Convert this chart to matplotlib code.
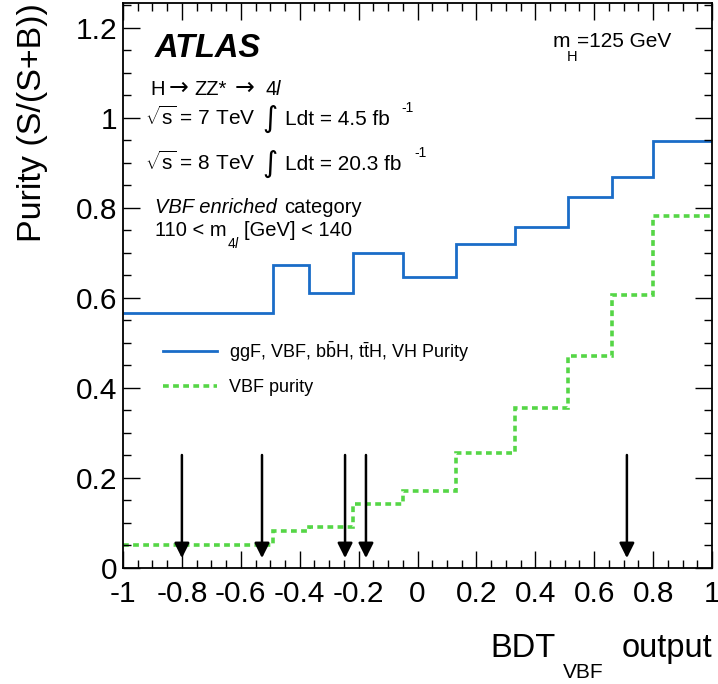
import matplotlib
matplotlib.use("Agg")
import matplotlib.pyplot as plt
from matplotlib.ticker import MultipleLocator

plt.rcParams['font.family'] = ['Liberation Sans', 'DejaVu Sans']
plt.rcParams['mathtext.fontset'] = 'custom'
plt.rcParams['mathtext.rm'] = 'Liberation Sans'
plt.rcParams['mathtext.it'] = 'Liberation Sans:italic'
plt.rcParams['mathtext.bf'] = 'Liberation Sans:bold'

# ---- data ----
bin_edges = [-1.0, -0.49, -0.37, -0.22, -0.05, 0.13, 0.33, 0.51, 0.66, 0.80, 1.0]
all_purity = [0.567, 0.673, 0.611, 0.700, 0.647, 0.719, 0.758, 0.824, 0.868, 0.948]
vbf_purity = [0.051, 0.083, 0.090, 0.142, 0.171, 0.255, 0.355, 0.470, 0.607, 0.781]
arrow_x = [-0.80, -0.528, -0.246, -0.175, 0.711]
arrow_top = 0.251
arrow_tip = 0.022

xticks = [-1, -0.8, -0.6, -0.4, -0.2, 0, 0.2, 0.4, 0.6, 0.8, 1]
xticklabels = ['-1', '-0.8', '-0.6', '-0.4', '-0.2', '0', '0.2', '0.4', '0.6', '0.8', '1']
yticks = [0, 0.2, 0.4, 0.6, 0.8, 1.0, 1.2]
yticklabels = ['0', '0.2', '0.4', '0.6', '0.8', '1', '1.2']

label_all = r'ggF, VBF, b$\mathregular{\bar{b}}$H, t$\mathregular{\bar{t}}$H, VH Purity'
label_vbf = 'VBF purity'

blue = '#1a6cc8'
green = '#55d646'

W, H = 718, 684
fig = plt.figure(figsize=(W / 100, H / 100), dpi=100)
ax = fig.add_axes([123 / W, 116 / H, 589 / W, 565 / H])


def ptext(x, y, s, **kw):
    """Place text at pixel position (from top-left), baseline-anchored."""
    kw.setdefault('va', 'baseline')
    kw.setdefault('ha', 'left')
    return fig.text(x / W, 1 - y / H, s, **kw)


ax.stairs(all_purity, bin_edges, color=blue, lw=2.0, label=label_all, baseline=None)
ax.stairs(vbf_purity, bin_edges, color=green, lw=2.6, ls=(0, (1.6, 1.2)),
          label=label_vbf, baseline=None)

for xa in arrow_x:
    ax.annotate('', xy=(xa, arrow_tip), xytext=(xa, arrow_top),
                arrowprops=dict(arrowstyle='-|>,head_length=0.9,head_width=0.45',
                                color='black', lw=1.8, shrinkA=0, shrinkB=0))

ax.set_xlim(-1, 1)
ax.set_ylim(0, 1.255)
ax.set_xticks(xticks)
ax.set_xticklabels(xticklabels)
ax.set_yticks(yticks)
ax.set_yticklabels(yticklabels)
ax.xaxis.set_minor_locator(MultipleLocator(0.05))
ax.yaxis.set_minor_locator(MultipleLocator(0.05))
ax.tick_params(which='both', direction='in', top=True, right=True, labelsize=21.5, width=1.0)
ax.tick_params(which='major', length=12)
ax.tick_params(which='minor', length=6)
ax.tick_params(axis='x', pad=9)
ax.tick_params(axis='y', pad=4)
for s in ax.spines.values():
    s.set_linewidth(1.3)

ax.set_ylabel('Purity (S/(S+B))', fontsize=24.5, loc='top')
ax.yaxis.set_label_coords(-0.128, 1.0)

# x-axis title (ROOT style, deep subscript)
ptext(712, 657, 'output', fontsize=23.5, ha='right')
ptext(604, 678, 'VBF', fontsize=15, ha='right')
ptext(556, 657, 'BDT', fontsize=23.5, ha='right')

# annotations
ptext(155, 57, 'ATLAS', fontsize=23.5, fontweight='bold', fontstyle='italic')
ptext(553, 47, 'm', fontsize=15)
ptext(567, 61, 'H', fontsize=10.5)
ptext(577, 47, '=125 GeV', fontsize=15)

ptext(150, 95, 'H', fontsize=14.5)
ptext(169, 95, '\u2192', fontsize=17, family=['DejaVu Sans'])
ptext(194, 95, 'ZZ*', fontsize=14.5)
ptext(235, 95, '\u2192', fontsize=17, family=['DejaVu Sans'])
ptext(265, 95, '4', fontsize=14.5)
ptext(276, 95, 'l', fontsize=14.5, fontstyle='italic')

ptext(145, 125, r'$\sqrt{\mathregular{s}}$ = 7 TeV', fontsize=15)
ptext(262, 127, '\u222b', fontsize=21, family=['DejaVu Sans'])
ptext(285, 125, 'Ldt = 4.5 fb', fontsize=15)
ptext(401, 112, '-1', fontsize=10)

ptext(145, 170, r'$\sqrt{\mathregular{s}}$ = 8 TeV', fontsize=15)
ptext(262, 172, '\u222b', fontsize=21, family=['DejaVu Sans'])
ptext(285, 170, 'Ldt = 20.3 fb', fontsize=15)
ptext(414, 157, '-1', fontsize=10)

ptext(155, 213, 'VBF enriched', fontsize=14.5, fontstyle='italic')
ptext(284, 213, 'category', fontsize=14.5)
ptext(155, 236, '110 < m', fontsize=14.5)
ptext(228, 248, '4', fontsize=10)
ptext(235, 248, 'l', fontsize=10, fontstyle='italic')
ptext(244, 236, '[GeV] < 140', fontsize=14.5)

leg = ax.legend(loc='upper left', bbox_to_anchor=(0.055, 0.418), frameon=False, fontsize=13,
                handlelength=3.0, handletextpad=0.7, labelspacing=0.85, borderaxespad=0)

fig.savefig('out.png', dpi=100)
